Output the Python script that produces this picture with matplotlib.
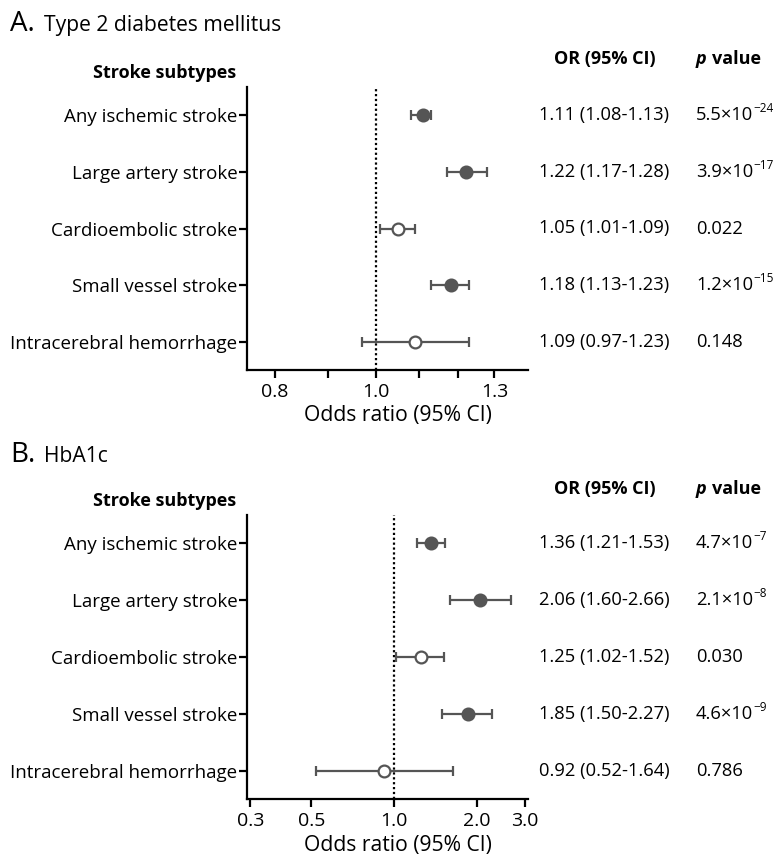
import matplotlib
matplotlib.use("Agg")
import matplotlib.pyplot as plt
import matplotlib.transforms as mtransforms
from matplotlib.ticker import FixedLocator, NullLocator, FixedFormatter

plt.rcParams["font.family"] = ["Open Sans", "DejaVu Sans"]

W, H = 775, 857

subtipos = ["Any ischemic stroke", "Large artery stroke", "Cardioembolic stroke",
            "Small vessel stroke", "Intracerebral hemorrhage"]

# Panel A: diabetes tipo 2
or_a = [1.11, 1.22, 1.05, 1.18, 1.09]
lo_a = [1.08, 1.17, 1.01, 1.13, 0.97]
hi_a = [1.13, 1.28, 1.09, 1.23, 1.23]
# p valor: (base, exponente) -- exponente vacio si no hay potencia
pbase_a = ["5.5×10", "3.9×10", "0.022", "1.2×10", "0.148"]
pexp_a = ["−24", "−17", "", "−15", ""]
sig_a = [True, True, False, True, False]
ticks_a = [0.8, 0.9, 1.0, 1.1, 1.2, 1.3]
ticklab_a = ["0.8", "", "1.0", "", "", "1.3"]

# Panel B: HbA1c
or_b = [1.36, 2.06, 1.25, 1.85, 0.92]
lo_b = [1.21, 1.60, 1.02, 1.50, 0.52]
hi_b = [1.53, 2.66, 1.52, 2.27, 1.64]
pbase_b = ["4.7×10", "2.1×10", "0.030", "4.6×10", "0.786"]
pexp_b = ["−7", "−8", "", "−9", ""]
sig_b = [True, True, False, True, False]
ticks_b = [0.3, 0.5, 1.0, 2.0, 3.0]
ticklab_b = ["0.3", "0.5", "1.0", "2.0", "3.0"]

GRIS = "#555555"


def px(x, y):
    return x / W, 1 - y / H


def panel(fig, renderer, caja, letra, titulo, y_titulo, y_head, y_sub, orv, lo, hi,
          pbase, pexp, sig, ticks, ticklab, xlim, y_xlabel):
    left, top, right, bottom = caja
    ax = fig.add_axes([left / W, 1 - bottom / H, (right - left) / W, (bottom - top) / H])
    ax.set_xscale("log")
    ax.set_xlim(*xlim)
    ax.set_ylim(4.5, -0.5)

    ax.axvline(1.0, color="black", linestyle=(0, (1, 1.2)), linewidth=1.6, zorder=1)

    for i in range(len(orv)):
        ax.errorbar(orv[i], i, xerr=[[orv[i] - lo[i]], [hi[i] - orv[i]]], fmt="none",
                    ecolor=GRIS, elinewidth=1.6, capsize=3.8, capthick=1.6, zorder=2)
        ax.plot(orv[i], i, "o", markersize=8.5,
                markerfacecolor=GRIS if sig[i] else "white",
                markeredgecolor=GRIS, markeredgewidth=1.6, zorder=3)

    ax.xaxis.set_major_locator(FixedLocator(ticks))
    ax.xaxis.set_major_formatter(FixedFormatter(ticklab))
    ax.xaxis.set_minor_locator(NullLocator())
    ax.set_yticks(range(len(subtipos)))
    ax.set_yticklabels(subtipos)

    for s in ["top", "right"]:
        ax.spines[s].set_visible(False)
    for s in ["left", "bottom"]:
        ax.spines[s].set_linewidth(1.6)
    ax.tick_params(axis="both", direction="out", length=5.5, width=1.6, labelsize=13.5, pad=1.5)
    ax.tick_params(axis="x", labelsize=14, pad=4)

    fig.text(*px((left + right) / 2 + 10, y_xlabel), "Odds ratio (95% CI)", fontsize=15.2,
             ha="center", va="center")

    fig.text(*px(10, y_titulo), letra, fontsize=20, ha="left", va="center")
    fig.text(*px(44, y_titulo + 1), titulo, fontsize=15.2, ha="left", va="center")
    fig.text(*px(165, y_sub), "Stroke subtypes", fontsize=13, fontweight="bold",
             ha="center", va="center")
    fig.text(*px(605, y_head), "OR (95% CI)", fontsize=13, fontweight="bold",
             ha="center", va="center")
    fig.text(*px(696, y_head), "p", fontsize=13, fontweight="bold", fontstyle="italic",
             ha="left", va="center")
    fig.text(*px(712, y_head), "value", fontsize=13, fontweight="bold",
             ha="left", va="center")

    trans = mtransforms.blended_transform_factory(fig.transFigure, ax.transData)
    for i in range(len(orv)):
        txt = f"{orv[i]:.2f} ({lo[i]:.2f}-{hi[i]:.2f})"
        fig.text(539 / W, i, txt, fontsize=13.2, ha="left", va="center", transform=trans)
        base = fig.text(696 / W, i, pbase[i], fontsize=13.2, ha="left", va="center",
                        transform=trans)
        if pexp[i]:
            bb = base.get_window_extent(renderer)
            sup = mtransforms.offset_copy(trans, fig=fig, x=bb.x1 - 696 / W * fig.bbox.width + 0.5,
                                          y=6.5, units="dots")
            fig.text(696 / W, i, pexp[i], fontsize=8.5, ha="left", va="center",
                     transform=sup)
    return ax


def main():
    fig = plt.figure(figsize=(W / 100, H / 100), dpi=100)
    renderer = fig.canvas.get_renderer()

    panel(fig, renderer, (247, 87, 528, 370), "A.", "Type 2 diabetes mellitus", 24, 59, 73,
          or_a, lo_a, hi_a, pbase_a, pexp_a, sig_a, ticks_a, ticklab_a, (0.752, 1.40), 416)
    panel(fig, renderer, (247, 515, 528, 799), "B.", "HbA1c", 455, 489, 501,
          or_b, lo_b, hi_b, pbase_b, pexp_b, sig_b, ticks_b, ticklab_b, (0.292, 3.07), 846)

    fig.savefig("out.png", dpi=100)
    plt.close(fig)


if __name__ == "__main__":
    main()
